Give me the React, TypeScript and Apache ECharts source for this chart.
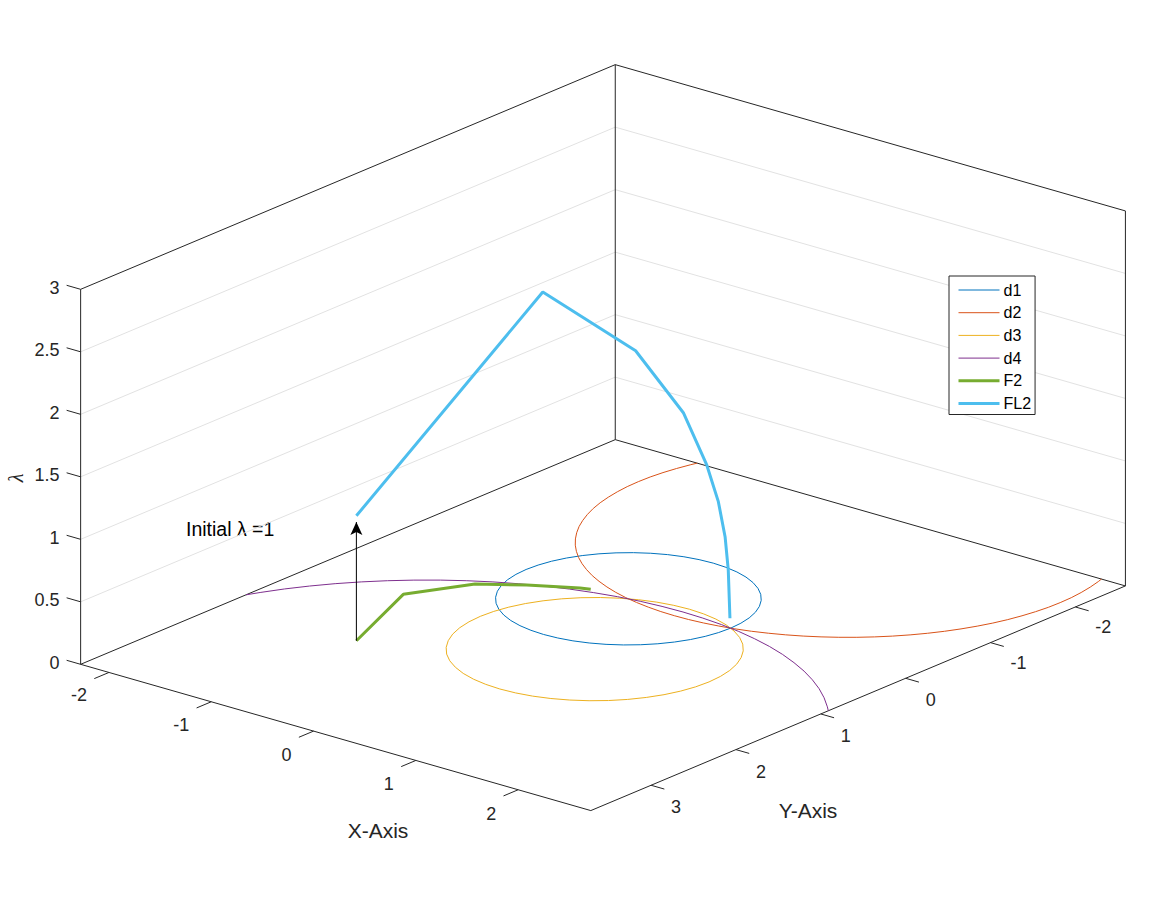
import React, { useEffect, useRef } from "react";
import * as echarts from "echarts";

type P2 = [number, number];
type P3 = [number, number, number];

// Axis limits and ticks
const xLim: P2 = [-2.277, 2.71];
const yLim: P2 = [-2.59, 3.71];
const zLim: P2 = [0, 3];
const xTicks = [-2, -1, 0, 1, 2];
const yTicks = [-2, -1, 0, 1, 2, 3];
const zTicks = [0, 0.5, 1, 1.5, 2, 2.5, 3];
const zGrid = [0.5, 1, 1.5, 2, 2.5];

// Curves on the floor (x, y)
const d1: P2[] = [
  [1, 0], [0.991, 0.131], [0.966, 0.259], [0.924, 0.383], [0.866, 0.5], [0.793, 0.609], [0.707, 0.707], [0.609, 0.793], [0.5, 0.866], [0.383, 0.924], [0.259, 0.966], [0.131, 0.991], [0, 1],
  [-0.131, 0.991], [-0.259, 0.966], [-0.383, 0.924], [-0.5, 0.866], [-0.609, 0.793], [-0.707, 0.707], [-0.793, 0.609], [-0.866, 0.5], [-0.924, 0.383], [-0.966, 0.259], [-0.991, 0.131], [-1, 0],
  [-0.991, -0.131], [-0.966, -0.259], [-0.924, -0.383], [-0.866, -0.5], [-0.793, -0.609], [-0.707, -0.707], [-0.609, -0.793], [-0.5, -0.866], [-0.383, -0.924], [-0.259, -0.966], [-0.131, -0.991], [0, -1],
  [0.131, -0.991], [0.259, -0.966], [0.383, -0.924], [0.5, -0.866], [0.609, -0.793], [0.707, -0.707], [0.793, -0.609], [0.866, -0.5], [0.924, -0.383], [0.966, -0.259], [0.991, -0.131], [1, 0],
];
const d2: P2[] = [
  [2.476, -2.59], [2.492, -2.534], [2.522, -2.402], [2.544, -2.269], [2.558, -2.135], [2.562, -2], [2.558, -1.865], [2.544, -1.731], [2.522, -1.598], [2.492, -1.466],
  [2.453, -1.337], [2.405, -1.211], [2.349, -1.088], [2.286, -0.969], [2.214, -0.854], [2.136, -0.745], [2.05, -0.64], [1.958, -0.542], [1.86, -0.45], [1.755, -0.364],
  [1.646, -0.286], [1.531, -0.214], [1.412, -0.151], [1.289, -0.095], [1.163, -0.047], [1.034, -0.008], [0.902, 0.022], [0.769, 0.044], [0.635, 0.058], [0.5, 0.062],
  [0.365, 0.058], [0.231, 0.044], [0.098, 0.022], [-0.034, -0.008], [-0.163, -0.047], [-0.289, -0.095], [-0.412, -0.151], [-0.531, -0.214], [-0.646, -0.286], [-0.755, -0.364],
  [-0.86, -0.45], [-0.958, -0.542], [-1.05, -0.64], [-1.136, -0.745], [-1.214, -0.854], [-1.286, -0.969], [-1.349, -1.088], [-1.405, -1.211], [-1.453, -1.337], [-1.492, -1.466],
  [-1.522, -1.598], [-1.544, -1.731], [-1.558, -1.865], [-1.562, -2], [-1.558, -2.135], [-1.544, -2.269], [-1.522, -2.402], [-1.492, -2.534], [-1.476, -2.59],
];
const d3: P2[] = [
  [1.618, 1], [1.608, 1.146], [1.58, 1.289], [1.533, 1.428], [1.468, 1.559], [1.387, 1.681], [1.291, 1.791], [1.181, 1.887], [1.059, 1.968], [0.928, 2.033], [0.789, 2.08], [0.646, 2.108], [0.5, 2.118],
  [0.354, 2.108], [0.211, 2.08], [0.072, 2.033], [-0.059, 1.968], [-0.181, 1.887], [-0.291, 1.791], [-0.387, 1.681], [-0.468, 1.559], [-0.533, 1.428], [-0.58, 1.289], [-0.608, 1.146], [-0.618, 1],
  [-0.608, 0.854], [-0.58, 0.711], [-0.533, 0.572], [-0.468, 0.441], [-0.387, 0.319], [-0.291, 0.209], [-0.181, 0.113], [-0.059, 0.032], [0.072, -0.033], [0.211, -0.08], [0.354, -0.108], [0.5, -0.118],
  [0.646, -0.108], [0.789, -0.08], [0.928, -0.033], [1.059, 0.032], [1.181, 0.113], [1.291, 0.209], [1.387, 0.319], [1.468, 0.441], [1.533, 0.572], [1.58, 0.711], [1.608, 0.854], [1.618, 1],
];
const d4: P2[] = [
  [-2.277, 1.761], [-2.227, 1.655], [-2.134, 1.479], [-2.029, 1.311], [-1.913, 1.149], [-1.786, 0.995], [-1.65, 0.85], [-1.505, 0.714], [-1.351, 0.587], [-1.189, 0.471],
  [-1.021, 0.366], [-0.845, 0.273], [-0.664, 0.19], [-0.478, 0.12], [-0.287, 0.063], [-0.093, 0.017], [0.103, -0.015], [0.301, -0.034], [0.5, -0.041], [0.699, -0.034],
  [0.897, -0.015], [1.093, 0.017], [1.287, 0.063], [1.478, 0.12], [1.664, 0.19], [1.845, 0.273], [2.021, 0.366], [2.189, 0.471], [2.351, 0.587], [2.505, 0.714], [2.65, 0.85], [2.71, 0.911],
];
const f2: P3[] = [
  [-1, 2, 0], [-1.37, 1.001, 0], [-1.096, 0.486, 0], [-0.782, 0.256, 0], [-0.431, 0.051, 0], [-0.35, 0.022, 0],
];
const fl2: P3[] = [
  [-1, 2, 1], [-0.004, 1.004, 2.74], [0.492, 0.508, 2.245], [0.747, 0.253, 1.736], [0.872, 0.128, 1.312],
  [0.934, 0.066, 1.015], [0.97, 0.03, 0.733], [0.987, 0.013, 0.466], [0.996, 0.004, 0.079],
];
const arrow: P3[] = [[-1, 2, 0], [-1, 2, 0.95]];

// Orthographic view of the 3-D axes
const view = { ox: 628.4, oy: 598.8, xx: 102.3, xy: 29.33, yx: -84.86, yy: 35.66, zy: -125 };
const project = ([x, y, z]: P3): P2 => [
  view.ox + view.xx * x + view.yx * y,
  view.oy + view.xy * x + view.yy * y + view.zy * z,
];
const floor = (pts: P2[]) => pts.map(([x, y]) => project([x, y, 0]));

const INK = "#262626";
const FONT = "Liberation Sans";
const [x0, x1] = xLim;
const [y0, y1] = yLim;
const [z0, z1] = zLim;

const seg = (...pts: P3[]) => ({ coords: pts.map(project) });
const boxEdges = [
  seg([x0, y1, z0], [x0, y1, z1], [x0, y0, z1], [x1, y0, z1], [x1, y0, z0]),
  seg([x0, y0, z0], [x0, y0, z1]),
  seg([x0, y1, z0], [x0, y0, z0], [x1, y0, z0]),
  seg([x0, y1, z0], [x1, y1, z0], [x1, y0, z0]),
];
const gridEdges = zGrid.map((z) => seg([x0, y1, z], [x0, y0, z], [x1, y0, z]));
const tickEdges = [
  ...xTicks.map((x) => seg([x, y1, 0], [x, y1 + 0.173, 0])),
  ...yTicks.map((y) => seg([x1, y, 0], [x1 + 0.13, y, 0])),
  ...zTicks.map((z) => seg([x0, y1, z], [x0 - 0.137, y1, z])),
];

const curve = (name: string, color: string, pts: P2[], width = 1) => ({
  type: "line", name, data: pts, symbol: "none",
  lineStyle: { color, width }, itemStyle: { color }, clip: false,
});
const edgeSeries = (name: string, data: any[], color: string) => ({
  type: "lines", name, coordinateSystem: "cartesian2d", polyline: true, data, silent: true,
  lineStyle: { color, width: 1, opacity: 1 }, symbol: "none",
});
const tickLabels = (name: string, data: any[], align: string, offset: (s: string) => P2) => ({
  type: "scatter", name, symbolSize: 0, silent: true, itemStyle: { opacity: 1 },
  data: data.map((d) => ({
    name: d.t, value: d.p,
    label: { show: true, position: "inside", formatter: "{b}", color: INK, fontFamily: FONT, fontSize: 18, align, verticalAlign: "middle", offset: offset(d.t) },
  })),
});

export default function App() {
  const ref = useRef<HTMLDivElement>(null);
  useEffect(() => {
    document.body.style.margin = "0";
    const chart = echarts.init(ref.current!, undefined, { renderer: "svg" });
    chart.setOption({
      animation: false,
      backgroundColor: "#fff",
      grid: { left: 0, right: 0, top: 0, bottom: 0 },
      xAxis: { type: "value", min: 0, max: 1165, show: false },
      yAxis: { type: "value", min: 0, max: 902, inverse: true, show: false },
      legend: {
        data: ["d1", "d2", "d3", "d4", "F2", "FL2"],
        orient: "vertical", left: 949, top: 276,
        padding: [6, 4, 3, 8], itemWidth: 41, itemHeight: 16, itemGap: 6.7,
        borderColor: "#262626", borderWidth: 1, backgroundColor: "#fff", borderRadius: 0,
        selectedMode: false, z: 20, align: "left",
        itemStyle: { opacity: 0 },
        lineStyle: { width: "inherit" },
        textStyle: { color: "#000", fontFamily: FONT, fontSize: 16, padding: [0, 0, 0, -1] },
      },
      series: [
        edgeSeries("grid", gridEdges, "#e2e2e2"),
        edgeSeries("box", boxEdges, INK),
        edgeSeries("ticks", tickEdges, INK),
        tickLabels("xLabels", xTicks.map((x) => ({ t: String(x), p: project([x, y1, 0]) })), "center", (s) => (s[0] === "-" ? [-30, 23] : [-27, 24])),
        tickLabels("yLabels", yTicks.map((y) => ({ t: String(y), p: project([x1, y, 0]) })), "center", (s) => (s[0] === "-" ? [28, 20] : [25, 22])),
        tickLabels("zLabels", zTicks.map((z) => ({ t: String(z), p: project([x0, y1, z]) })), "right", () => [-21, -1.5]),
        curve("d1", "#0072BD", floor(d1)),
        curve("d2", "#D95319", floor(d2)),
        curve("d3", "#EDB120", floor(d3)),
        curve("d4", "#7E2F8E", floor(d4)),
        curve("F2", "#77AC30", f2.map(project), 3),
        curve("FL2", "#4DBEEE", fl2.map(project), 3),
        { type: "line", name: "arrow", data: arrow.map(project), symbol: "none", lineStyle: { color: "#000", width: 1 } },
        {
          type: "scatter", name: "arrowHead", data: [project(arrow[1])],
          symbol: "path://M0,0 L6,13 L0,10 L-6,13 Z", symbolSize: [12, 13], symbolOffset: [0, "50%"],
          itemStyle: { color: "#000", opacity: 1 }, silent: true,
        },
      ],
      graphic: [
        { type: "text", x: 378, y: 830, style: { text: "X-Axis", fill: INK, font: `21px '${FONT}'`, textAlign: "center", textVerticalAlign: "middle" } },
        { type: "text", x: 808, y: 810, style: { text: "Y-Axis", fill: INK, font: `21px '${FONT}'`, textAlign: "center", textVerticalAlign: "middle" } },
        { type: "text", x: 16, y: 478, rotation: Math.PI / 2, style: { text: "λ", fill: INK, font: `italic 20px 'Liberation Serif'`, textAlign: "center", textVerticalAlign: "middle" } },
        { type: "text", x: 186, y: 529, style: { text: "Initial λ =1", fill: "#000", font: `19.5px '${FONT}'`, textAlign: "left", textVerticalAlign: "middle" } },
      ],
    });
    return () => chart.dispose();
  }, []);
  return <div ref={ref} style={{ width: 1165, height: 902 }} />;
}
